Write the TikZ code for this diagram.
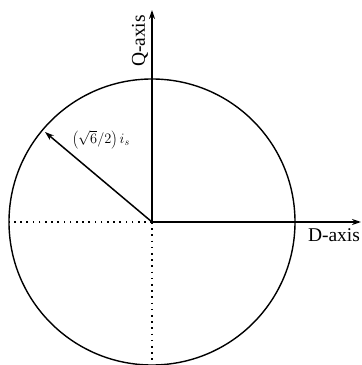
\documentclass[tikz,border=0pt]{standalone}
\usepackage{fontspec}
\setmainfont{Liberation Serif}
\usetikzlibrary{arrows.meta}
\begin{document}
\begin{tikzpicture}[x=1pt,y=1pt,
  axis/.style={line width=1.5pt,-{Stealth[length=9pt,width=6pt]}},
  dots/.style={line width=1.7pt,dash pattern=on 1.6pt off 4.6pt},
  lbl/.style={font=\fontsize{19.5}{21}\selectfont,inner sep=0pt}]
\useasboundingbox (0,0) rectangle (362,365);
\coordinate (C) at (152,143);
\coordinate (Qt) at (152,355);
\coordinate (Dt) at (361,143);
\coordinate (L) at (9,143);
\coordinate (B) at (152,1);
\coordinate (R) at (45,233);
\draw[line width=1.4pt] (C) circle[radius=143];
\draw[dots] (C) -- (L);
\draw[dots] (C) -- (B);
\draw[axis] (C) -- (Qt);
\draw[axis] (C) -- (Dt);
\draw[axis] (C) -- (R);
\node[lbl,rotate=90] (ql) at (140,324) {Q-axis};
\node[lbl] (dl) at (334,130) {D-axis};
\node[inner sep=0pt,font=\fontsize{14.5}{16}\selectfont] (rl) at (101,225) {$\left(\sqrt{6}/2\right)i_s$};
\end{tikzpicture}
\end{document}
